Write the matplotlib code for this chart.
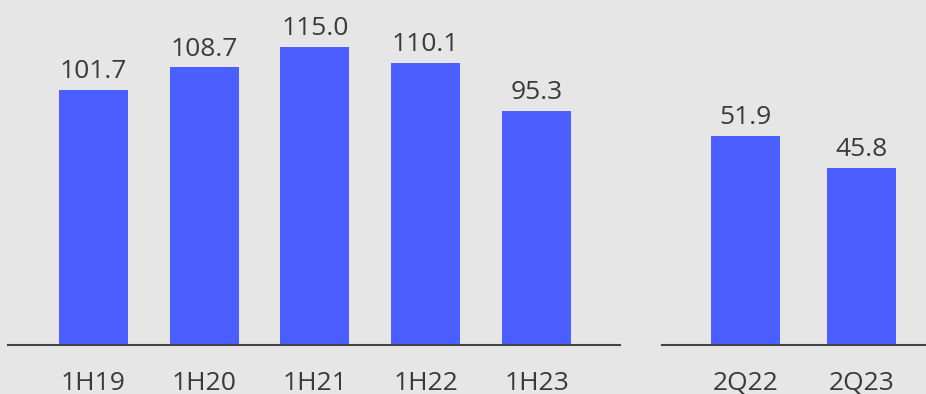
import matplotlib
matplotlib.use("Agg")
import matplotlib.pyplot as plt

# Half-year figures
half_labels = ["1H19", "1H20", "1H21", "1H22", "1H23"]
half_values = [101.7, 108.7, 115.0, 110.1, 95.3]

# Quarter figures
quarter_labels = ["2Q22", "2Q23"]
quarter_values = [51.9, 45.8]

BG = "#e6e6e6"
BAR = "#4b5eff"
TEXT = "#3a3a3a"
AXIS = "#444444"

plt.rcParams["font.family"] = ["Open Sans", "DejaVu Sans"]

W, H = 926, 394
fig = plt.figure(figsize=(W / 100, H / 100), dpi=100, facecolor=BG)

base = (H - 345) / H


def panel(rect, labels, values, width, xlim, ylim):
    ax = fig.add_axes(rect, facecolor=BG)
    xs = list(range(len(values)))
    ax.bar(xs, values, width=width, color=BAR, zorder=2)
    for x, v in zip(xs, values):
        ax.annotate(f"{v:.1f}", (x, v), xytext=(0, 8.6), textcoords="offset points",
                    ha="center", va="baseline", fontsize=19, color=TEXT)
    ax.set_xlim(*xlim)
    ax.set_ylim(*ylim)
    ax.set_xticks(xs)
    ax.set_xticklabels(labels)
    ax.set_yticks([])
    for s in ("top", "left", "right"):
        ax.spines[s].set_visible(False)
    ax.spines["bottom"].set_color(AXIS)
    ax.spines["bottom"].set_linewidth(1.5)
    ax.spines["bottom"].set_zorder(3)
    ax.tick_params(axis="x", length=0, pad=19, labelsize=19, labelcolor=TEXT)
    return ax


panel([8 / W, base, 612 / W, 1 - base], half_labels, half_values,
      0.623, (-0.772, 4.754), (22.3, 129.7))
panel([662 / W, base, 264 / W, 1 - base], quarter_labels, quarter_values,
      0.595, (-0.72, 1.556), (12.1, 77.8))

fig.savefig("out.png", dpi=100, facecolor=BG)
